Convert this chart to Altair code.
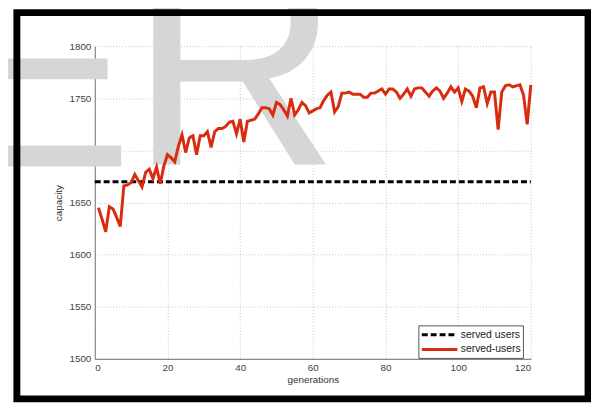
import altair as alt
import pandas as pd

# ---- data ----
generations = list(range(1, 121))
served = [
    1645, 1634, 1622, 1646, 1644, 1636, 1627, 1666, 1667, 1669,
    1677, 1671, 1665, 1679, 1682, 1673, 1684, 1668, 1685, 1696,
    1693, 1689, 1704, 1715, 1698, 1712, 1714, 1696, 1714, 1714,
    1718, 1703, 1718, 1721, 1721, 1723, 1727, 1728, 1716, 1730,
    1708, 1728, 1729, 1730, 1735, 1741, 1741, 1740, 1734, 1746,
    1744, 1739, 1733, 1750, 1734, 1739, 1746, 1743, 1736, 1738,
    1740, 1741, 1748, 1753, 1756, 1737, 1742, 1755, 1755, 1756,
    1754, 1754, 1754, 1751, 1751, 1755, 1755, 1757, 1759, 1754,
    1759, 1759, 1756, 1750, 1754, 1759, 1752, 1759, 1760, 1760,
    1756, 1752, 1757, 1760, 1757, 1750, 1755, 1761, 1756, 1760,
    1747, 1759, 1757, 1752, 1741, 1760, 1761, 1745, 1756, 1756,
    1720, 1756, 1762, 1763, 1761, 1762, 1763, 1753, 1725, 1763,
]
baseline_x = [0, 120]
baseline_y = [1670, 1670]
series_names = ["served users", "served-users"]
series_colors = ["#000000", "#d92b0e"]
x_ticks = [0, 20, 40, 60, 80, 100, 120]
y_ticks = [1500, 1550, 1600, 1650, 1700, 1750, 1800]
watermark_letters = ["E", "R"]

df = pd.concat([
    pd.DataFrame({"gen": baseline_x, "cap": baseline_y, "series": series_names[0]}),
    pd.DataFrame({"gen": generations, "cap": served, "series": series_names[1]}),
], ignore_index=True)

FONT = "Liberation Sans"

lines = alt.Chart(df).mark_line(strokeWidth=3).encode(
    x=alt.X("gen:Q", scale=alt.Scale(domain=[0, 120], nice=False),
            axis=alt.Axis(values=x_ticks, title="generations", format="d")),
    y=alt.Y("cap:Q", scale=alt.Scale(domain=[1500, 1800], nice=False, zero=False),
            axis=alt.Axis(values=y_ticks, title="capacity", format="d")),
    color=alt.Color("series:N",
                    scale=alt.Scale(domain=series_names, range=series_colors),
                    legend=alt.Legend(title=None, orient="none", legendX=328, legendY=283,
                                      strokeColor="#555555", fillColor="white", padding=2,
                                      symbolType="M-1,0H5", symbolSize=144, symbolStrokeWidth=3,
                                      labelFontSize=10.5, labelColor="#222222", labelFont=FONT,
                                      rowPadding=1, labelOffset=26)),
    strokeDash=alt.StrokeDash("series:N",
                              scale=alt.Scale(domain=series_names, range=[[6, 3], [1, 0]]),
                              legend=None),
    order="gen:Q",
)

wm_e = alt.Chart(pd.DataFrame({"t": [watermark_letters[0]]})).mark_text(
    font=FONT, fontSize=280, align="left", baseline="alphabetic", color="#d6d6d6"
).encode(text="t:N", x=alt.value(-148), y=alt.value(122))

wm_r = alt.Chart(pd.DataFrame({"t": [watermark_letters[1]]})).mark_text(
    font=FONT, fontSize=295, align="left", baseline="alphabetic", color="#d6d6d6"
).encode(text="t:N", x=alt.value(35), y=alt.value(120))

frame = alt.Chart(pd.DataFrame({"k": [0]})).mark_rect(
    filled=False, stroke="black", strokeWidth=7
).encode(x=alt.value(-79), x2=alt.value(500), y=alt.value(-34), y2=alt.value(357.5))

chart = alt.layer(wm_e, wm_r, lines, frame).properties(
    width=442, height=317,
    padding={"left": 88, "top": 36, "right": 61, "bottom": 44},
    autosize=alt.AutoSizeParams(type="none"),
).configure_view(strokeOpacity=0).configure_axis(
    domainColor="#888888", domainWidth=1.2,
    grid=True, gridColor="#c4c4c4", gridDash=[1, 2], gridWidth=1,
    tickSize=0, labelFont=FONT, labelFontSize=10, labelColor="#444444",
    labelPadding=4, titleFont=FONT, titleFontSize=10, titleFontWeight="normal",
    titleColor="#333333",
).configure_axisY(titlePadding=6).configure_axisX(titlePadding=2, labelPadding=4)

chart.save("out.html", embed_options={"renderer": "svg", "actions": False})
